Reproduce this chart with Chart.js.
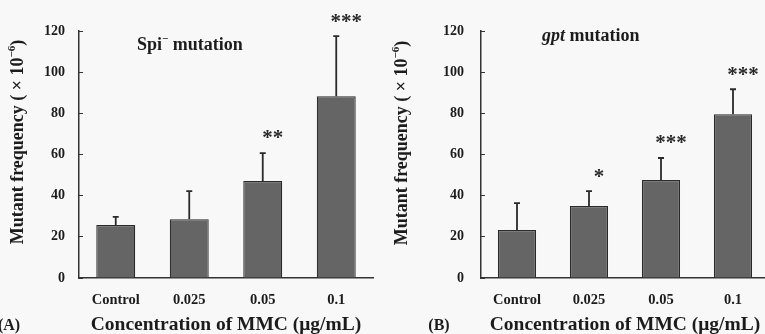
<!DOCTYPE html>
<html>
<head>
<meta charset="utf-8">
<script src="https://cdn.jsdelivr.net/npm/chart.js@4.4.0/dist/chart.umd.min.js"></script>
<style>
  html, body { margin: 0; padding: 0; background: #f8f8f8; overflow: hidden; width: 765px; height: 334px; }
  #wa { position: absolute; left: 0; top: 0; width: 385px; height: 334px; }
  #wb { position: absolute; left: 385px; top: 0; width: 390px; height: 334px; }
</style>
</head>
<body>
<div id="wa"><canvas id="ca"></canvas></div>
<div id="wb"><canvas id="cb"></canvas></div>
<script>
const categories = ['Control', '0.025', '0.05', '0.1'];
const spiMean = [25.7, 28.6, 47.1, 88.3];
const spiSD = [4.0, 13.6, 13.6, 29.2];
const spiSig = ['', '', '**', '***'];
const gptMean = [23.3, 35.0, 47.6, 79.6];
const gptSD = [13.1, 7.2, 10.7, 12.1];
const gptSig = ['', '*', '***', '***'];
const yTicks = [0, 20, 40, 60, 80, 100, 120];

const SERIF = '"Liberation Serif", "DejaVu Serif", serif';
const INK = '#1c1c1c';

// draw a row of text pieces (for superscripts / italics)
function drawRuns(ctx, runs, x, y, align) {
  let total = 0;
  runs.forEach(r => { ctx.font = r.font; r.w = ctx.measureText(r.t).width; total += r.w; });
  let cx = align === 'center' ? x - total / 2 : x;
  runs.forEach(r => {
    ctx.font = r.font;
    ctx.fillText(r.t, cx, y + (r.dy || 0));
    cx += r.w;
  });
}

function makePanel(canvasId, means, sds, sigs, p) {
  const extras = {
    id: 'extras' + canvasId,
    afterDatasetsDraw(chart) {
      const { ctx, scales: { y } } = chart;
      const meta = chart.getDatasetMeta(0);
      ctx.save();
      ctx.strokeStyle = '#2a2a2a';
      ctx.lineWidth = 1.8;
      meta.data.forEach((bar, i) => {
        const yTop = y.getPixelForValue(means[i] + sds[i]);
        ctx.beginPath();
        ctx.moveTo(bar.x, bar.y);
        ctx.lineTo(bar.x, yTop);
        ctx.moveTo(bar.x - 3, yTop);
        ctx.lineTo(bar.x + 3, yTop);
        ctx.stroke();
        if (sigs[i]) {
          ctx.fillStyle = '#2a2a2a';
          ctx.font = 'bold 21px ' + SERIF;
          ctx.textAlign = 'center';
          ctx.textBaseline = 'middle';
          ctx.fillText(sigs[i], bar.x + 10, yTop - 14);
        }
      });
      ctx.restore();
    },
    afterDraw(chart) {
      const { ctx } = chart;
      ctx.save();
      ctx.fillStyle = INK;
      ctx.textBaseline = 'middle';
      ctx.textAlign = 'left';
      // panel heading
      drawRuns(ctx, p.heading, p.headX, p.headY, 'left');
      // panel letter
      ctx.font = 'bold 16px ' + SERIF;
      ctx.textAlign = 'center';
      ctx.fillText(p.letter, p.letterX, 326);
      // y axis title
      ctx.translate(p.yTitleX, p.yTitleY);
      ctx.rotate(-Math.PI / 2);
      ctx.textAlign = 'left';
      drawRuns(ctx, [
        { t: 'Mutant frequency ( \u00d7 10', font: 'bold 18px ' + SERIF },
        { t: '\u22126', font: 'bold 11px ' + SERIF, dy: -6 },
        { t: ')', font: 'bold 18px ' + SERIF }
      ], 0, 0, 'center');
      ctx.restore();
    }
  };

  return new Chart(document.getElementById(canvasId), {
    type: 'bar',
    data: {
      labels: categories,
      datasets: [{
        data: means,
        backgroundColor: '#656565',
        borderColor: '#2a2a2a',
        borderWidth: 1.2,
        barPercentage: 0.53,
        categoryPercentage: 1.0,
      }],
    },
    options: {
      responsive: true,
      maintainAspectRatio: false,
      animation: false,
      layout: { padding: { left: 0, right: p.padRight, top: 31, bottom: 0 } },
      plugins: { legend: { display: false }, tooltip: { enabled: false } },
      scales: {
        x: {
          afterFit: (s) => { s.height = 56; },
          grid: { display: false, drawTicks: false },
          border: { display: true, color: '#333', width: 1.5 },
          ticks: { color: INK, padding: 14, font: { family: SERIF, size: 14.5, weight: 'bold' } },
          title: {
            display: true,
            text: 'Concentration of MMC (\u03bcg/mL)',
            color: INK,
            font: { family: SERIF, size: 19.5, weight: 'bold' },
            padding: { top: 0, bottom: -3 },
          },
        },
        y: {
          min: 0,
          max: 120,
          afterFit: (s) => { s.width = p.axisX; },
          afterBuildTicks: (s) => { s.ticks = yTicks.map(v => ({ value: v })); },
          grid: { display: true, drawOnChartArea: false, drawTicks: true, tickLength: -4, color: '#333' },
          border: { display: true, color: '#333', width: 1.5 },
          ticks: { color: INK, padding: p.tickPad, font: { family: SERIF, size: 14, weight: 'bold' } },
        },
      },
    },
    plugins: [extras],
  });
}

makePanel('ca', spiMean, spiSD, spiSig, {
  axisX: 79, padRight: 12, tickPad: 18,
  heading: [
    { t: 'Spi', font: 'bold 18px ' + SERIF },
    { t: '\u2212', font: 'bold 11px ' + SERIF, dy: -6 },
    { t: ' mutation', font: 'bold 18px ' + SERIF }
  ],
  headX: 137, headY: 45,
  letter: '(A)', letterX: 9,
  yTitleX: 18, yTitleY: 142,
});

makePanel('cb', gptMean, gptSD, gptSig, {
  axisX: 96, padRight: 6, tickPad: 21,
  heading: [
    { t: 'gpt', font: 'italic bold 18px ' + SERIF },
    { t: ' mutation', font: 'bold 18px ' + SERIF }
  ],
  headX: 157, headY: 36,
  letter: '(B)', letterX: 54,
  yTitleX: 17, yTitleY: 143,
});
</script>
</body>
</html>
